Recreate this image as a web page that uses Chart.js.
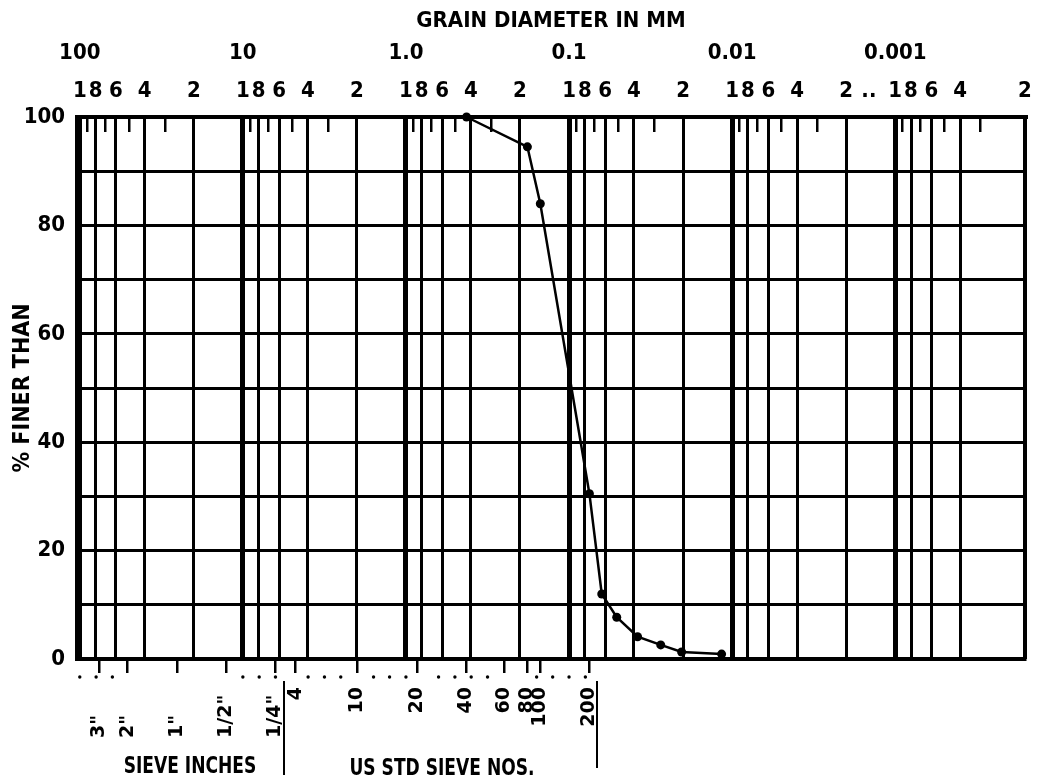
<!DOCTYPE html>
<html>
<head>
<meta charset="utf-8">
<script src="https://cdn.jsdelivr.net/npm/chart.js@4.4.0/dist/chart.umd.min.js"></script>
<style>
  html, body { margin: 0; background: #fff; }
  canvas { display: block; }
</style>
</head>
<body>
<canvas id="grafico" width="1039" height="779"></canvas>
<script>
// curva granulometrica (diametro en mm, % que pasa)
const diametroMM = [0.425, 0.18, 0.15, 0.075, 0.063, 0.051, 0.038, 0.0274, 0.0204, 0.0116];
const pasaPct = [100, 94.5, 84, 30.5, 12, 7.7, 4.1, 2.6, 1.3, 0.9];

// eje superior
const decadas = [100, 10, 1, 0.1, 0.01, 0.001];
const etiquetasDecada = ['100', '10', '1.0', '0.1', '0.01', '0.001'];
const factoresLinea = [0.8, 0.6, 0.4, 0.2];
const etiquetasLinea = ['8', '6', '4', '2'];
const factoresMarca = [0.9, 0.7, 0.5, 0.3];

// eje inferior (tamices)
const tamizPulgMM = [76.2, 50.8, 25.4, 12.7, 6.35];
const tamizPulgEtiq = ['3"', '2"', '1"', '1/2"', '1/4"'];
const tamizNoMM = [4.75, 2.0, 0.85, 0.425, 0.25, 0.18, 0.15, 0.075];
const tamizNoEtiq = ['4', '10', '20', '40', '60', '80', '100', '200'];
const puntosBaseMM = [100, 79.4, 63.1, 10, 7.94, 6.31, 3.98, 3.16, 2.51, 1.58, 1.26, 1.0,
	0.631, 0.501, 0.398, 0.316, 0.158, 0.126, 0.1, 0.0794];
const divisionesMM = [5.6, 0.067];

// eje y
const marcasY = [0, 10, 20, 30, 40, 50, 60, 70, 80, 90, 100];
const etiquetasY = ['0', '', '20', '', '40', '', '60', '', '80', '', '100'];

const X_MIN = 0.00016;
const X_MAX = 104;

const marcasSup = [];
decadas.forEach((d, i) => {
	marcasSup.push({ value: d, label: [etiquetasDecada[i], '1'], tipo: 'decada' });
	factoresLinea.forEach((f, j) => {
		if (d * f > X_MIN * 1.5) {
			marcasSup.push({ value: d * f, label: ['', etiquetasLinea[j]], tipo: 'linea' });
		}
	});
});
marcasSup.push({ value: 0.00145, label: ['', '..'], tipo: 'nada' });
marcasSup.push({ value: X_MIN, label: ['', '2'], tipo: 'borde' });

const marcasCortas = [];
decadas.forEach((d) => factoresMarca.forEach((f) => marcasCortas.push(d * f)));

const anchos = { decada: 5, linea: 3, nada: 0, borde: 4 };
const fuente = "'DejaVu Sans Condensed', 'DejaVu Sans', sans-serif";
const fuenteTamiz = "'DejaVu Sans', sans-serif";

Chart.defaults.color = '#000';
Chart.defaults.font.family = fuente;
Chart.defaults.font.weight = 'bold';
Chart.defaults.font.size = 22;

const extras = {
	id: 'extras',
	afterDraw(chart) {
		const { ctx } = chart;
		const x = chart.scales.x;
		ctx.save();
		ctx.fillStyle = '#000';
		ctx.strokeStyle = '#000';

		puntosBaseMM.forEach((v) => {
			ctx.beginPath();
			ctx.arc(x.getPixelForValue(v), 677, 1.7, 0, Math.PI * 2);
			ctx.fill();
		});

		ctx.font = 'bold 19px ' + fuenteTamiz;
		ctx.textAlign = 'left';
		ctx.textBaseline = 'middle';
		tamizPulgMM.forEach((v, i) => {
			ctx.save();
			ctx.translate(x.getPixelForValue(v), 738);
			ctx.rotate(-Math.PI / 2);
			ctx.fillText(tamizPulgEtiq[i], 0, 0);
			ctx.restore();
		});

		ctx.lineWidth = 2;
		const finY = [775, 768];
		divisionesMM.forEach((v, i) => {
			const px = Math.round(x.getPixelForValue(v));
			ctx.beginPath();
			ctx.moveTo(px, 681);
			ctx.lineTo(px, finY[i]);
			ctx.stroke();
		});

		// rotulos inferiores, algo estirados en vertical como el original
		ctx.font = 'bold 19px ' + fuente;
		ctx.textAlign = 'center';
		[['SIEVE INCHES', 190, 767], ['US STD SIEVE NOS.', 442, 769]].forEach(([t, px, py]) => {
			ctx.save();
			ctx.translate(px, py);
			ctx.scale(1, 1.25);
			ctx.fillText(t, 0, 0);
			ctx.restore();
		});
		ctx.restore();
	},
};

new Chart(document.getElementById('grafico'), {
	type: 'scatter',
	data: {
		datasets: [
			{
				data: diametroMM.map((d, i) => ({ x: d, y: pasaPct[i] })),
				showLine: true,
				borderColor: '#000',
				backgroundColor: '#000',
				borderWidth: 2.5,
				pointRadius: 4.5,
				pointBorderWidth: 0,
				pointBackgroundColor: '#000',
				tension: 0,
				clip: false,
			},
		],
	},
	options: {
		responsive: false,
		animation: false,
		layout: { padding: { left: 0, top: 0, bottom: 0, right: 14 } },
		plugins: { legend: { display: false }, tooltip: { enabled: false } },
		scales: {
			x: {
				type: 'logarithmic',
				position: 'bottom',
				reverse: true,
				min: X_MIN,
				max: X_MAX,
				afterBuildTicks: (s) => {
					s.ticks = tamizPulgMM.concat(tamizNoMM).map((v) => ({ value: v }));
				},
				afterFit: (s) => {
					s.height = 120;
				},
				ticks: {
					autoSkip: false,
					minRotation: 90,
					maxRotation: 90,
					padding: 14,
					font: { family: fuenteTamiz, size: 19 },
					callback: (v, i) => (i < tamizPulgMM.length ? '' : tamizNoEtiq[i - tamizPulgMM.length]),
				},
				grid: { drawOnChartArea: false, drawTicks: true, tickLength: 14, lineWidth: 2.5, color: '#000' },
				border: { width: 4, color: '#000' },
			},
			x2: {
				type: 'logarithmic',
				position: 'top',
				reverse: true,
				min: X_MIN,
				max: X_MAX,
				weight: 1,
				afterBuildTicks: (s) => {
					s.ticks = marcasSup.map((m) => ({ value: m.value }));
				},
				afterFit: (s) => {
					s.height = 117;
				},
				ticks: {
					autoSkip: false,
					minRotation: 0,
					maxRotation: 0,
					padding: 7,
					font: { size: 22, lineHeight: 1.73 },
					callback: (v, i) => marcasSup[i].label,
				},
				grid: {
					drawTicks: false,
					color: '#000',
					lineWidth: (c) => anchos[marcasSup[c.index] ? marcasSup[c.index].tipo : 'nada'],
				},
				border: { width: 4, color: '#000' },
				title: {
					display: true,
					text: 'GRAIN DIAMETER IN MM',
					font: { size: 22 },
					padding: { top: 8, bottom: 0 },
				},
			},
			x3: {
				type: 'logarithmic',
				position: 'top',
				reverse: true,
				min: X_MIN,
				max: X_MAX,
				weight: 0,
				afterBuildTicks: (s) => {
					s.ticks = marcasCortas.map((v) => ({ value: v }));
				},
				afterFit: (s) => {
					s.height = 0;
				},
				ticks: { display: false },
				grid: { drawOnChartArea: false, drawTicks: true, tickLength: -15, lineWidth: 2.5, color: '#000' },
				border: { display: false },
			},
			y: {
				min: 0,
				max: 100,
				afterBuildTicks: (s) => {
					s.ticks = marcasY.map((v) => ({ value: v }));
				},
				afterFit: (s) => {
					s.width = 77;
				},
				ticks: { padding: 12, callback: (v, i) => etiquetasY[i] },
				grid: { drawTicks: false, color: '#000', lineWidth: 3 },
				border: { width: 4, color: '#000' },
				title: {
					display: true,
					text: '% FINER THAN',
					font: { size: 23 },
					padding: { top: 9, bottom: 0 },
				},
			},
		},
	},
	plugins: [extras],
});
</script>
</body>
</html>
